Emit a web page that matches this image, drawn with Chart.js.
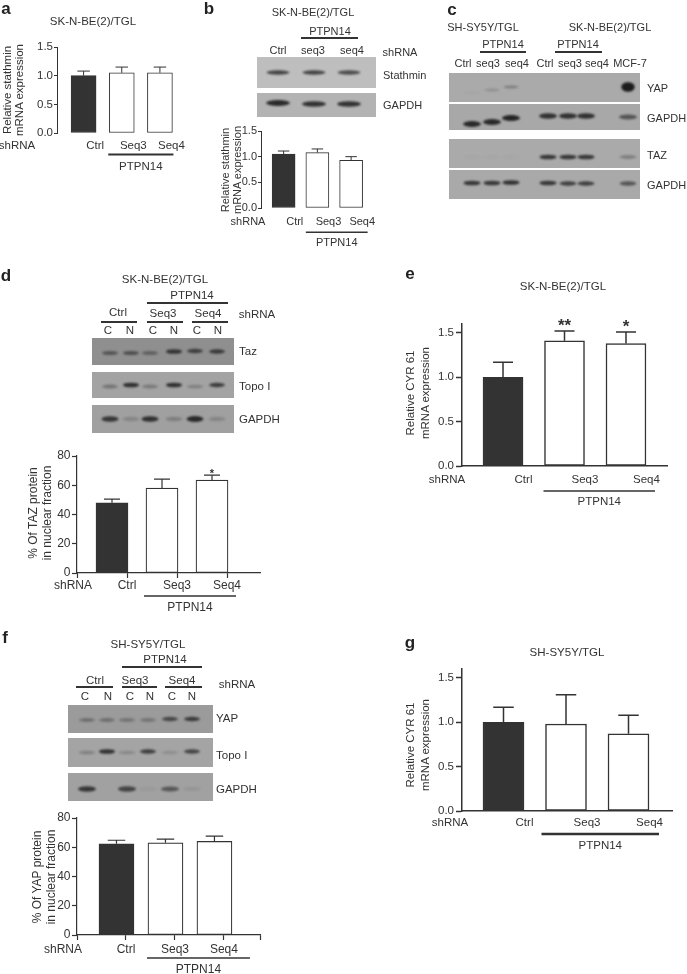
<!DOCTYPE html>
<html>
<head>
<meta charset="utf-8">
<script src="https://cdn.jsdelivr.net/npm/chart.js@4.4.1/dist/chart.umd.min.js"></script>
<style>
  html, body { margin: 0; padding: 0; background: #fff; }
  #fig { position: relative; width: 687px; height: 974px; overflow: hidden;
         font-family: 'Liberation Sans', Arial, Helvetica, sans-serif; color: #333; }
  #fig canvas { position: absolute; }
</style>
</head>
<body>
<div id="fig"><canvas id="blots" width="687" height="974" style="left:0;top:0"></canvas></div>
<script>
// ---- data ----
const groups = ['Ctrl', 'Seq3', 'Seq4'];
const mrnaTicks = [0, 0.5, 1.0, 1.5];
const pctTicks = [0, 20, 40, 60, 80];

const aValues = [1.0, 1.05, 1.05];
const aErrors = [0.08, 0.1, 0.1];
const bValues = [1.05, 1.08, 0.93];
const bErrors = [0.06, 0.07, 0.07];
const dValues = [48, 58, 63.5];
const dErrors = [2.5, 6.2, 3.4];
const dStars = ['', '', '*'];
const eValues = [1.0, 1.41, 1.38];
const eErrors = [0.17, 0.11, 0.13];
const eStars = ['', '**', '*'];
const fValues = [62.4, 63, 64];
const fErrors = [2.4, 2.5, 3.6];
const gValues = [1.0, 0.98, 0.87];
const gErrors = [0.17, 0.33, 0.21];

// blot band intensities (0 = none, 1 = strongest)
const bLanes = ['Ctrl', 'seq3', 'seq4'];
const bStathmin = [0.75, 0.75, 0.7];
const bGapdh = [0.9, 0.85, 0.85];
const cLanes = ['Ctrl', 'seq3', 'seq4', 'Ctrl', 'seq3', 'seq4', 'MCF-7'];
const cYap = [0.04, 0.18, 0.3, 0, 0, 0, 1];
const cGapdh1 = [0.9, 0.9, 0.95, 0.85, 0.85, 0.85, 0.6];
const cTaz = [0.03, 0.03, 0.03, 0.8, 0.8, 0.8, 0.3];
const cGapdh2 = [0.8, 0.8, 0.85, 0.8, 0.75, 0.75, 0.6];
const fractionLanes = ['C', 'N', 'C', 'N', 'C', 'N'];
const dTaz = [0.5, 0.55, 0.4, 0.8, 0.7, 0.75];
const dTopo = [0.35, 0.85, 0.3, 0.85, 0.25, 0.75];
const dGapdh = [0.8, 0.2, 0.85, 0.25, 0.9, 0.2];
const fYap = [0.35, 0.35, 0.3, 0.3, 0.65, 0.75];
const fTopo = [0.25, 0.85, 0.2, 0.75, 0.15, 0.7];
const fGapdh = [0.8, 0, 0.7, 0.05, 0.55, 0.08];

const INK = '#333';
const DARK = '#333';
const fig = document.getElementById('fig');
Chart.defaults.font.family = "'Liberation Sans', Arial, Helvetica, sans-serif";
Chart.defaults.color = INK;

// ---- html text helpers ----
function txt(s, x, y, size, left, extra) {
  const d = document.createElement('div');
  d.textContent = s;
  d.style.cssText = 'position:absolute;left:' + x + 'px;top:' + y + 'px;font-size:' + size +
    'px;line-height:1;white-space:nowrap;transform:translate(' + (left ? '0' : '-50%') + ',-50%);' + (extra || '');
  fig.appendChild(d);
}
function hline(x1, x2, y, w) {
  const d = document.createElement('div');
  d.style.cssText = 'position:absolute;left:' + x1 + 'px;top:' + (y - w / 2) + 'px;width:' + (x2 - x1) +
    'px;height:' + w + 'px;background:' + INK + ';';
  fig.appendChild(d);
}
function ytitle(lines, x, y, size, lh) {
  const d = document.createElement('div');
  d.innerHTML = lines.join('<br>');
  d.style.cssText = 'position:absolute;left:' + x + 'px;top:' + y + 'px;font-size:' + size + 'px;line-height:' + lh +
    'px;white-space:nowrap;text-align:center;transform:translate(-50%,-50%) rotate(-90deg);';
  fig.appendChild(d);
}
function letter(s, x, y) { txt(s, x, y, 17, false, 'font-weight:bold;color:#222;'); }

// ---- blots ----
const bctx = document.getElementById('blots').getContext('2d');
function drawBlot(x, y, w, h, bg, centers, levels, bw, bh, offs, big) {
  bctx.save();
  bctx.fillStyle = bg;
  bctx.fillRect(x, y, w, h);
  bctx.beginPath(); bctx.rect(x, y, w, h); bctx.clip();
  bctx.filter = 'blur(1.1px)';
  centers.forEach((cx, i) => {
    const v = levels[i];
    if (!v) return;
    const cy = y + h / 2 + (offs ? offs[i] : 0);
    const k = big && big[i] ? big[i] : 1;
    bctx.fillStyle = 'rgba(28,28,28,' + Math.min(1, v) + ')';
    bctx.beginPath();
    bctx.ellipse(cx, cy, bw / 2 * (k > 1 ? 0.9 : 1), bh / 2 * (0.65 + 0.35 * v) * k, 0, 0, Math.PI * 2);
    bctx.fill();
  });
  bctx.restore();
}

// panel b blots
const bCenters = [278, 314, 349];
drawBlot(257, 57, 119, 31, '#bebebe', bCenters, bStathmin, 23, 5);
drawBlot(257, 93, 119, 24, '#b3b3b3', bCenters, bGapdh, 24, 6, [-2, -1, -1]);
// panel c blots
const cCenters = [472, 492, 511, 548, 568, 586, 628];
drawBlot(449, 73, 191, 29, '#aaaaaa', cCenters, cYap, 15, 4, [5.5, 2.5, -0.5, 0, 0, 0, -0.5], [1, 1, 1, 1, 1, 1, 2.4]);
drawBlot(449, 104, 191, 26, '#a8a8a8', cCenters, cGapdh1, 18, 6, [7, 5, 1, -1, -1, -1, 0]);
drawBlot(449, 139, 191, 29, '#aaaaaa', cCenters, cTaz, 17, 5, [3.5, 3.5, 3.5, 3.5, 3.5, 3.5, 3.5]);
drawBlot(449, 170, 191, 29, '#a9a9a9', cCenters, cGapdh2, 17, 5, [-1.5, -1.5, -2, -1.5, -1, -1, -1]);
// panel d blots
const dCenters = [110, 131, 150, 174, 195, 217];
drawBlot(92, 338, 142, 27, '#8f8f8f', dCenters, dTaz, 16, 5, [1.5, 1.5, 1.5, 0, -0.5, 0]);
drawBlot(92, 372, 142, 26, '#a3a3a3', dCenters, dTopo, 16, 5, [1.5, 0, 1.5, 0, 1.5, 0]);
drawBlot(92, 405, 142, 28, '#a0a0a0', dCenters, dGapdh, 17, 6, [0, 0, 0, 0, 0, 0]);
// panel f blots
const fCenters = [87, 107, 127, 148, 170, 192];
drawBlot(68, 705, 145, 28, '#9b9b9b', fCenters, fYap, 16, 5, [1, 1, 1, 1, 0, 0]);
drawBlot(68, 738, 145, 29, '#a4a4a4', fCenters, fTopo, 16, 5, [0, -1, 0, -1, 0, -1]);
drawBlot(68, 773, 145, 28, '#a1a1a1', fCenters, fGapdh, 18, 6, [2, 2, 2, 2, 2, 2]);

// ---- bar charts ----
function makeChart(o) {
  const box = { l: o.area.l - o.padL, t: o.area.t - 14, r: o.area.r + 14, b: o.area.b + 46 };
  const W = Math.round(box.r - box.l), H = Math.round(box.b - box.t);
  const cv = document.createElement('canvas');
  cv.width = W; cv.height = H;
  cv.style.left = box.l + 'px'; cv.style.top = box.t + 'px';
  cv.style.width = W + 'px'; cv.style.height = H + 'px';
  fig.appendChild(cv);
  const yw = 24, xh = 26;
  const xtl = o.xTicks ? 5 : 0;

  // error bars, stars, shRNA / PTPN14 group label
  const extras = {
    id: 'extras',
    afterDatasetsDraw(chart) {
      const ctx = chart.ctx, ys = chart.scales.y, area = chart.chartArea;
      const bars = chart.getDatasetMeta(0).data;
      ctx.save();
      ctx.strokeStyle = INK; ctx.fillStyle = INK;
      ctx.lineWidth = o.lw;
      bars.forEach((bar, i) => {
        const top = ys.getPixelForValue(o.values[i] + o.errors[i]);
        const cap = bar.width * 0.5;
        ctx.beginPath();
        ctx.moveTo(bar.x, bar.y); ctx.lineTo(bar.x, top);
        ctx.moveTo(bar.x - cap / 2, top); ctx.lineTo(bar.x + cap / 2, top);
        ctx.stroke();
        if (o.stars && o.stars[i]) {
          ctx.font = 'bold ' + o.starSize + "px 'Liberation Sans', Arial, sans-serif";
          ctx.textAlign = 'center'; ctx.textBaseline = 'alphabetic';
          ctx.fillText(o.stars[i], bar.x, top - o.starGap + 0.57 * o.starSize);
        }
      });
      ctx.font = o.font + "px 'Liberation Sans', Arial, sans-serif";
      ctx.textAlign = 'center'; ctx.textBaseline = 'middle';
      ctx.fillText('shRNA', area.left + o.shrnaDx, area.bottom + o.labelDy);
      const l = bars[1].x - bars[1].width / 2 + o.lineDl;
      const r = bars[2].x + bars[2].width / 2 + o.lineDr;
      ctx.lineWidth = o.groupLw;
      ctx.beginPath();
      ctx.moveTo(l, area.bottom + o.lineDy); ctx.lineTo(r, area.bottom + o.lineDy);
      ctx.stroke();
      ctx.fillText('PTPN14', (l + r) / 2 + o.ptpnDx, area.bottom + o.ptpnDy);
      ctx.restore();
    }
  };

  new Chart(cv, {
    type: 'bar',
    data: {
      datasets: [{
        data: o.values.map((v, i) => ({ x: i + 1, y: v })),
        backgroundColor: groups.map((g, i) => i === 0 ? DARK : '#fff'),
        borderColor: INK,
        borderWidth: o.lw,
        borderSkipped: false,
        barThickness: o.barW
      }]
    },
    options: {
      responsive: false,
      animation: false,
      devicePixelRatio: 1,
      layout: {
        padding: {
          left: o.area.l - box.l - yw,
          top: o.area.t - box.t,
          right: box.r - o.area.r,
          bottom: box.b - o.area.b - xh
        }
      },
      plugins: { legend: { display: false }, tooltip: { enabled: false } },
      scales: {
        x: {
          type: 'linear', min: o.xMin, max: o.xMax, offset: false, bounds: 'data', clip: false,
          afterFit: s => { s.height = xh; },
          grid: { display: true, offset: false, drawOnChartArea: false, drawTicks: !!o.xTicks, tickLength: 5,
                  tickWidth: o.lw, tickColor: INK },
          border: { display: o.xAxis, color: INK, width: o.lw },
          ticks: {
            stepSize: 1, includeBounds: false,
            autoSkip: false, maxRotation: 0, color: INK,
            padding: o.labelDy - xtl - 0.6 * o.font,
            font: { size: o.font },
            callback: v => groups[Math.round(v) - 1] || ''
          }
        },
        y: {
          min: 0, max: o.yMax, clip: false,
          afterFit: s => { s.width = yw; },
          afterBuildTicks: s => { s.ticks = o.yTicks.map(v => ({ value: v })); },
          grid: { drawOnChartArea: false, drawTicks: true, tickLength: o.ytl, tickWidth: o.lw, tickColor: INK },
          border: { display: true, color: INK, width: o.lw },
          ticks: {
            color: INK, padding: o.ytPad, font: { size: o.font },
            callback: v => o.yTicks === mrnaTicks ? v.toFixed(1) : String(v)
          }
        }
      }
    },
    plugins: [extras]
  });
}

// panel a
letter('a', 6, 8);
txt('SK-N-BE(2)/TGL', 93, 22, 11.5);
ytitle(['Relative stathmin', 'mRNA expression'], 13, 90, 11.5, 12);
makeChart({
  area: { l: 57, r: 178.5, t: 46.7, b: 132.7 }, padL: 62,
  values: aValues, errors: aErrors, yMax: 1.5, yTicks: mrnaTicks,
  xMin: 0.303, xMax: 3.5, barW: 25, font: 11.5, lw: 1, ytl: 3, ytPad: 1,
  xAxis: false, xTicks: false, labelDy: 12.5, shrnaDx: -40, lineDl: -1, lineDr: 1,
  lineDy: 21.5, groupLw: 2, ptpnDy: 33.5, ptpnDx: 0
});

// panel b
letter('b', 209, 8);
txt('SK-N-BE(2)/TGL', 313, 12, 11);
txt('PTPN14', 330, 31, 11);
hline(301, 358, 38, 1.2);
bLanes.forEach((s, i) => txt(s, [278, 313, 352][i], 50, 11));
txt('shRNA', 400, 52, 11);
txt('Stathmin', 383, 75, 11, true);
txt('GAPDH', 383, 105, 11, true);
ytitle(['Relative stathmin', 'mRNA expression'], 231, 170, 11, 11.5);
makeChart({
  area: { l: 261, r: 367.5, t: 131, b: 207.7 }, padL: 40,
  values: bValues, errors: bErrors, yMax: 1.5, yTicks: mrnaTicks,
  xMin: 0.33, xMax: 3.5, barW: 23, font: 11, lw: 1, ytl: 3, ytPad: 1,
  xAxis: false, xTicks: false, labelDy: 14.3, shrnaDx: -13, lineDl: 0, lineDr: 5,
  lineDy: 24.3, groupLw: 1.5, ptpnDy: 35.3, ptpnDx: 0
});

// panel c
letter('c', 452, 9);
txt('SH-SY5Y/TGL', 483, 27, 11);
txt('SK-N-BE(2)/TGL', 610, 27, 11);
txt('PTPN14', 503, 44, 11);
hline(480, 526, 52, 1.2);
txt('PTPN14', 578, 44, 11);
hline(555, 602, 52, 1.2);
cLanes.forEach((s, i) => txt(s, [463, 488, 517, 545, 570, 597, 630][i], 63, 11));
txt('YAP', 647, 88, 11, true);
txt('GAPDH', 647, 118, 11, true);
txt('TAZ', 647, 155, 11, true);
txt('GAPDH', 647, 185, 11, true);

// panel d
letter('d', 6, 275);
txt('SK-N-BE(2)/TGL', 165, 280, 11.5);
txt('PTPN14', 192, 296, 11.5);
hline(147, 228, 303, 1.2);
txt('Ctrl', 118, 313, 11.5); hline(101, 137, 322, 1.2);
txt('Seq3', 163, 314, 11.5); hline(147, 183, 322, 1.2);
txt('Seq4', 208, 314, 11.5); hline(192, 228, 322, 1.2);
txt('shRNA', 257, 315, 11.5);
fractionLanes.forEach((s, i) => txt(s, [108, 130, 153, 174, 197, 218][i], 331, 11.5));
txt('Taz', 239, 352, 11.5, true);
txt('Topo I', 239, 387, 11.5, true);
txt('GAPDH', 239, 420, 11.5, true);
ytitle(['% Of  TAZ protein', 'in nuclear fraction'], 40, 513, 12, 14);
makeChart({
  area: { l: 77, r: 260, t: 456, b: 573 }, padL: 62,
  values: dValues, errors: dErrors, stars: dStars, starSize: 11, starGap: 4,
  yMax: 80, yTicks: pctTicks,
  xMin: 0.3, xMax: 3.96, barW: 32, font: 12, lw: 1.2, ytl: 5, ytPad: 1.5,
  xAxis: true, xTicks: true, labelDy: 13, shrnaDx: -4, lineDl: -2, lineDr: 8,
  lineDy: 23, groupLw: 1.5, ptpnDy: 35, ptpnDx: 0
});

// panel e
letter('e', 410, 273);
txt('SK-N-BE(2)/TGL', 563, 287, 11.5);
ytitle(['Relative CYR 61', 'mRNA expression'], 417.5, 393, 11.5, 15);
makeChart({
  area: { l: 462, r: 667, t: 324, b: 466 }, padL: 62,
  values: eValues, errors: eErrors, stars: eStars, starSize: 17, starGap: 9.5,
  yMax: 1.6, yTicks: mrnaTicks,
  xMin: 0.333, xMax: 3.667, barW: 40, font: 11.5, lw: 1.5, ytl: 6, ytPad: 2,
  xAxis: true, xTicks: false, labelDy: 14, shrnaDx: -15, lineDl: -1, lineDr: 9,
  lineDy: 25, groupLw: 1.3, ptpnDy: 36, ptpnDx: 0
});

// panel f
letter('f', 5, 637);
txt('SH-SY5Y/TGL', 148, 645, 11.5);
txt('PTPN14', 165, 660, 11.5);
hline(122, 202, 667, 1.2);
txt('Ctrl', 95, 681, 11.5); hline(76, 113, 687, 1.2);
txt('Seq3', 135, 681, 11.5); hline(122, 157, 687, 1.2);
txt('Seq4', 182, 681, 11.5); hline(165, 202, 687, 1.2);
txt('shRNA', 237, 685, 11.5);
fractionLanes.forEach((s, i) => txt(s, [85, 108, 130, 150, 172, 192][i], 697, 11.5));
txt('YAP', 216, 719, 11.5, true);
txt('Topo I', 216, 756, 11.5, true);
txt('GAPDH', 216, 790, 11.5, true);
ytitle(['% Of  YAP protein', 'in nuclear fraction'], 43.5, 877, 12, 14);
makeChart({
  area: { l: 77, r: 260, t: 818, b: 935 }, padL: 62,
  values: fValues, errors: fErrors, yMax: 80, yTicks: pctTicks,
  xMin: 0.194, xMax: 3.93, barW: 35, font: 12, lw: 1.2, ytl: 5, ytPad: 1.5,
  xAxis: true, xTicks: true, labelDy: 15, shrnaDx: -14, lineDl: -1, lineDr: 18,
  lineDy: 23, groupLw: 1.5, ptpnDy: 35, ptpnDx: 0
});

// panel g
letter('g', 410, 642);
txt('SH-SY5Y/TGL', 567, 653, 11.5);
ytitle(['Relative CYR 61', 'mRNA expression'], 417.5, 745, 11.5, 15);
makeChart({
  area: { l: 462, r: 672, t: 669, b: 811 }, padL: 62,
  values: gValues, errors: gErrors, yMax: 1.6, yTicks: mrnaTicks,
  xMin: 0.336, xMax: 3.696, barW: 41, font: 11.5, lw: 1.5, ytl: 6, ytPad: 2,
  xAxis: true, xTicks: false, labelDy: 12, shrnaDx: -12, lineDl: -4, lineDr: 10,
  lineDy: 23, groupLw: 2.5, ptpnDy: 35, ptpnDx: 0
});
</script>
</body>
</html>
